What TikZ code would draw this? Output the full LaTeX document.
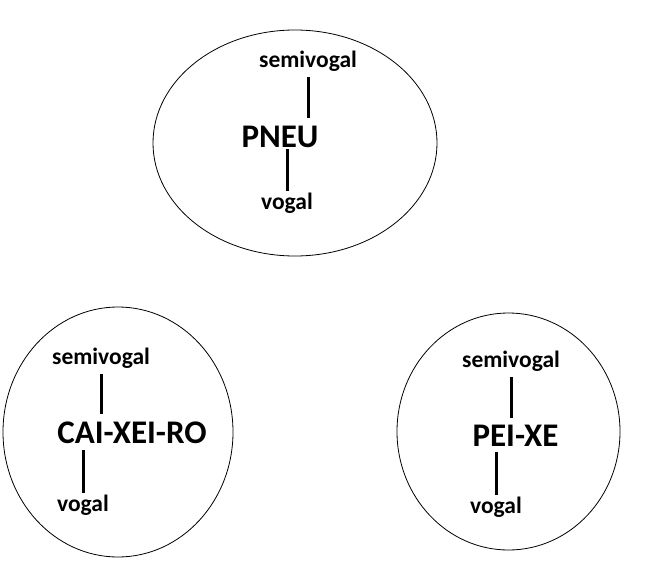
\documentclass[tikz,border=0pt]{standalone}
\usepackage{fontspec}
\setmainfont{Carlito}
\tikzset{
  bubble/.style={line width=0.8pt},
  stem/.style={line width=3pt},
  label/.style={anchor=base, inner sep=0pt, font=\fontsize{23.5}{28}\selectfont\bfseries},
  word/.style={anchor=base, inner sep=0pt, font=\fontsize{33}{40}\selectfont\bfseries}
}
\begin{document}
\begin{tikzpicture}[x=1pt, y=-1pt]
  \useasboundingbox (0,0) rectangle (656,578);

  % Drawing ellipse PNEU
  \draw [bubble] (295,143) ellipse [x radius=142, y radius=113];
  \node [label] (svA) at (308,68) {semivogal};
  \node [word] (pneu) at (280,147) {PNEU};
  \node [label] (vgA) at (287,209) {vogal};
  \draw [stem, shorten <=5pt, shorten >=7pt] (svA.south) -- (svA.south |- pneu.north);
  \draw [stem, shorten <=2pt, shorten >=1pt] (vgA.north |- pneu.south) -- (vgA.north);

  % Drawing ellipse CAI-XEI-RO
  \draw [bubble] (118,432) ellipse [x radius=115, y radius=125];
  \node [label] (svB) at (101,364) {semivogal};
  \node [word] (caixeiro) at (132,443) {CAI-XEI-RO};
  \node [label] (vgB) at (83,511) {vogal};
  \draw [stem, shorten <=6pt, shorten >=7pt] (svB.south) -- (svB.south |- caixeiro.north);
  \draw [stem, shorten <=7pt, shorten >=1pt] (vgB.north |- caixeiro.south) -- (vgB.north);

  % Drawing ellipse PEI-XE
  \draw [bubble] (508.5,431.5) ellipse [x radius=111.5, y radius=118.5];
  \node [label] (svC) at (511,367) {semivogal};
  \node [word] (peixe) at (515.5,446) {PEI-XE};
  \node [label] (vgC) at (496,513) {vogal};
  \draw [stem, shorten <=6pt, shorten >=6pt] (svC.south) -- (svC.south |- peixe.north);
  \draw [stem, shorten <=6pt, shorten >=1pt] (vgC.north |- peixe.south) -- (vgC.north);
\end{tikzpicture}
\end{document}
